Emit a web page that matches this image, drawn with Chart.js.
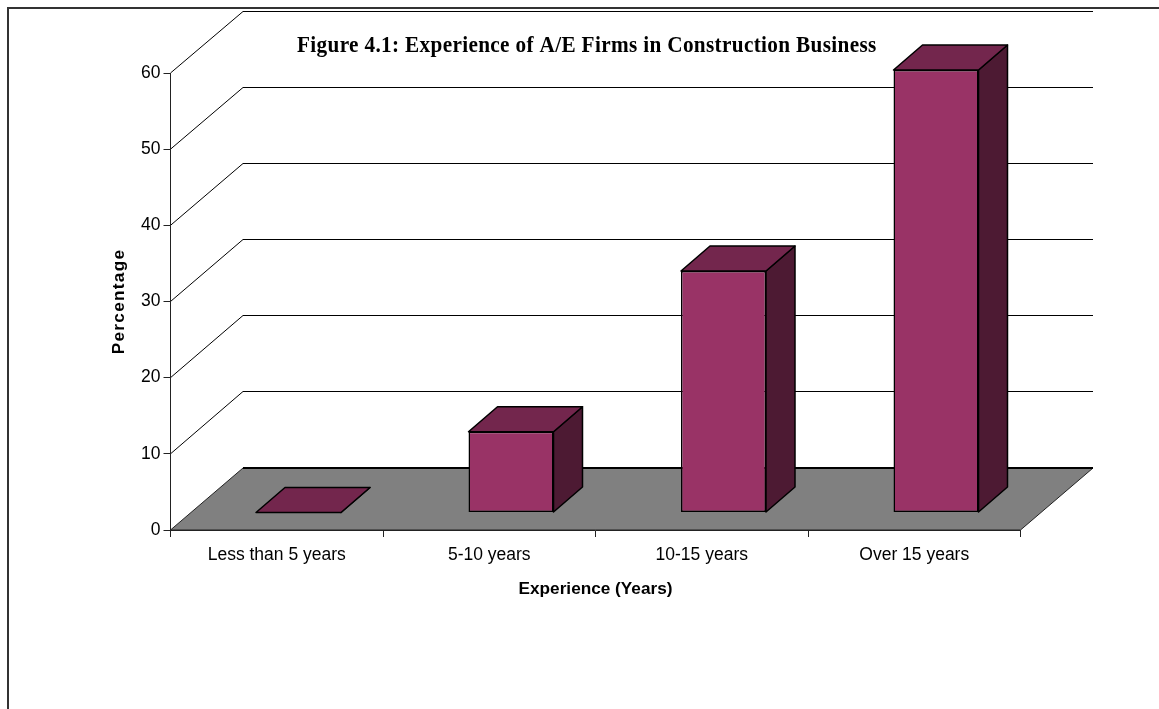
<!DOCTYPE html>
<html>
<head>
<meta charset="utf-8">
<title>Figure 4.1</title>
<script src="https://cdn.jsdelivr.net/npm/chart.js@4"></script>
<style>
  html, body { margin: 0; padding: 0; background: #fff; overflow: hidden; }
  #wrap { width: 1159px; height: 709px; }
</style>
</head>
<body>
<div id="wrap"><canvas id="myChart" width="1159" height="709"></canvas></div>
<script>
const categories = ['Less than 5 years', '5-10 years', '10-15 years', 'Over 15 years'];
const percentages = [0, 10.6, 31.7, 58.1];
const yTicks = [0, 10, 20, 30, 40, 50, 60];
const chartTitle = 'Figure 4.1: Experience of A/E Firms in Construction Business';
const xAxisTitle = 'Experience (Years)';
const yAxisTitle = 'Percentage';

// how far the back wall sits from the front of the floor
const wallDx = 72.5;
const wallDy = 62;
// the bars stand this far back on the floor, and are this deep
const barShiftX = 21.75;
const barShiftY = 17.5;
const barDepthX = 29;
const barDepthY = 25;

function poly(ctx, pts, fill, stroke, width) {
  ctx.beginPath();
  pts.forEach((p, i) => i ? ctx.lineTo(p[0], p[1]) : ctx.moveTo(p[0], p[1]));
  ctx.closePath();
  if (fill) { ctx.fillStyle = fill; ctx.fill(); }
  if (stroke) { ctx.strokeStyle = stroke; ctx.lineWidth = width; ctx.lineJoin = 'round'; ctx.stroke(); }
}

const wall3dPlugin = {
  id: 'wall3dPlugin',
  beforeDraw: (chart) => {
    const ctx = chart.ctx;
    const xAxis = chart.scales.x;
    const yAxis = chart.scales.y;
    const left = xAxis.left, right = xAxis.right, y0 = yAxis.getPixelForValue(0);

    // the y title in the reference is spaced out, the library has no option for it
    if (!yAxis.spacedTitle) {
      const drawTitle = yAxis.drawTitle.bind(yAxis);
      yAxis.drawTitle = () => {
        ctx.letterSpacing = '1.3px';
        drawTitle();
        ctx.letterSpacing = '0px';
      };
      yAxis.spacedTitle = true;
    }

    ctx.save();

    // outer frame, only top and left show
    ctx.strokeStyle = '#333';
    ctx.lineWidth = 2;
    ctx.beginPath();
    ctx.moveTo(8, 709);
    ctx.lineTo(8, 8);
    ctx.lineTo(1159, 8);
    ctx.stroke();

    // grid lines going up the side wall and along the back
    ctx.strokeStyle = '#000';
    ctx.lineWidth = 1;
    yTicks.forEach(v => {
      if (v === 0) return;
      const y = yAxis.getPixelForValue(v);
      const backY = Math.floor(y - wallDy) + 0.5;
      ctx.beginPath();
      ctx.moveTo(left, y);
      ctx.lineTo(left + wallDx, backY);
      ctx.lineTo(right + wallDx, backY);
      ctx.stroke();
    });

    // floor
    poly(ctx, [[left, y0], [left + wallDx, y0 - wallDy], [right + wallDx, y0 - wallDy], [right, y0]], '#808080', '#222', 1);
    ctx.strokeStyle = '#000';
    ctx.lineWidth = 2;
    ctx.beginPath();
    ctx.moveTo(left + wallDx, y0 - wallDy);
    ctx.lineTo(right + wallDx, y0 - wallDy);
    ctx.stroke();

    // title, the reference has it tall and a bit squeezed
    ctx.font = 'bold 24px "Liberation Serif"';
    ctx.fillStyle = '#000';
    ctx.textAlign = 'left';
    ctx.textBaseline = 'alphabetic';
    ctx.letterSpacing = '0.38px';
    ctx.translate(297, 52);
    ctx.scale(0.885, 1);
    ctx.fillText(chartTitle, 0, 0);
    ctx.letterSpacing = '0px';
    ctx.restore();
  },
  beforeDatasetDraw: (chart) => {
    const ctx = chart.ctx;
    const bars = chart.getDatasetMeta(0).data;
    ctx.save();
    ctx.translate(barShiftX, -barShiftY);
    // top and side faces of each bar, the front is the library's own bar
    bars.forEach(bar => {
      const l = bar.x - bar.width / 2, r = bar.x + bar.width / 2;
      poly(ctx, [[r, bar.y], [r + barDepthX, bar.y - barDepthY], [r + barDepthX, bar.base - barDepthY], [r, bar.base]], '#4D1A33', '#000', 1.5);
      poly(ctx, [[l, bar.y], [l + barDepthX, bar.y - barDepthY], [r + barDepthX, bar.y - barDepthY], [r, bar.y]], '#73264D', '#000', 1.5);
    });
  },
  afterDatasetDraw: (chart) => {
    chart.ctx.restore();
  }
};

new Chart(document.getElementById('myChart'), {
  type: 'bar',
  data: {
    labels: categories,
    datasets: [{
      data: percentages,
      backgroundColor: '#993366',
      borderColor: '#000',
      borderWidth: 1.5,
      borderSkipped: false,
      barPercentage: 0.4,
      categoryPercentage: 1
    }]
  },
  options: {
    responsive: false,
    animation: false,
    layout: { padding: { left: 105, right: 138.5, top: 73, bottom: 105 } },
    plugins: { legend: { display: false }, tooltip: { enabled: false } },
    scales: {
      x: {
        afterFit: (s) => { s.height = 74; },
        grid: { offset: true, drawOnChartArea: false, color: '#222', tickLength: 7 },
        border: { color: '#222' },
        ticks: { color: '#000', padding: 8, maxRotation: 0, font: { family: 'Liberation Sans', size: 17.5 } },
        title: { display: true, text: xAxisTitle, color: '#000', font: { family: 'Liberation Sans', size: 17.2, weight: 'bold' } }
      },
      y: {
        min: 0,
        max: 60,
        afterFit: (s) => { s.width = 65.5; },
        afterBuildTicks: (s) => { s.ticks = yTicks.map(v => ({ value: v })); },
        grid: { drawOnChartArea: false, color: '#222', tickLength: 7 },
        border: { color: '#222' },
        ticks: { color: '#000', padding: 3, font: { family: 'Liberation Sans', size: 17.5 } },
        title: { display: true, text: yAxisTitle, color: '#000', font: { family: 'Liberation Sans', size: 17.2, weight: 'bold' } }
      }
    }
  },
  plugins: [wall3dPlugin]
});
</script>
</body>
</html>
